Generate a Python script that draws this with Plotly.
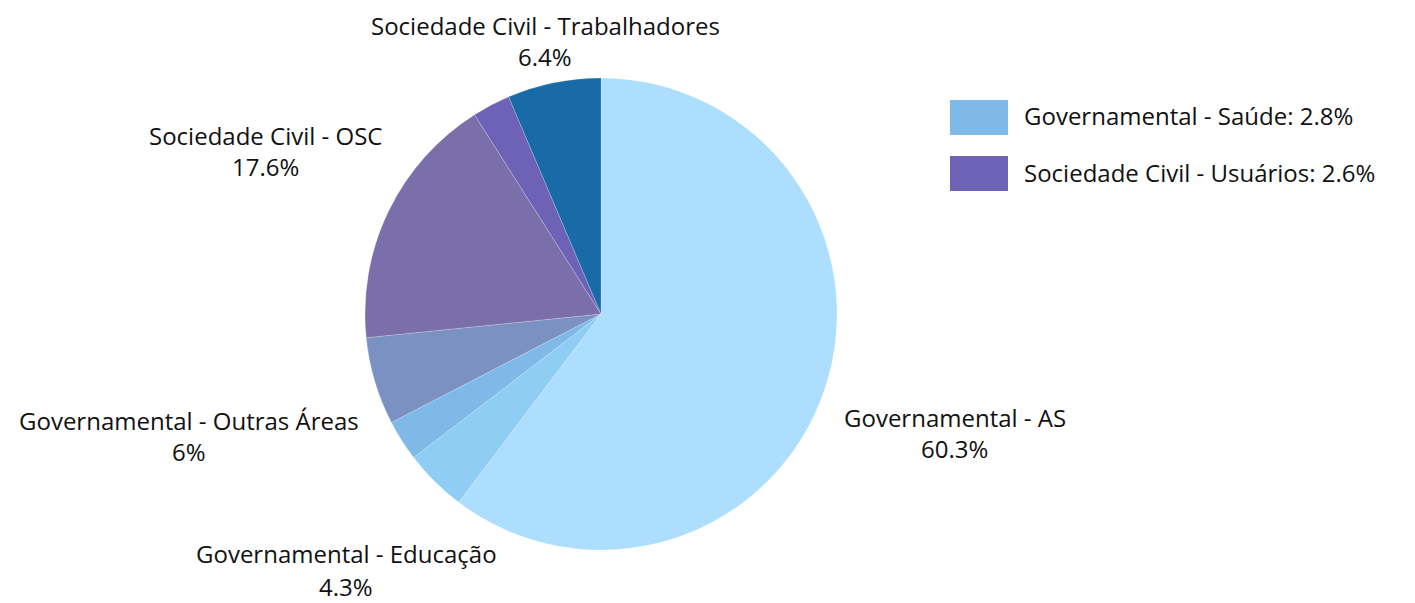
import math
import plotly.graph_objects as go

labels = [
    "Governamental - AS",
    "Governamental - Educação",
    "Governamental - Saúde",
    "Governamental - Outras Áreas",
    "Sociedade Civil - OSC",
    "Sociedade Civil - Usuários",
    "Sociedade Civil - Trabalhadores",
]
values = [60.3, 4.3, 2.8, 6.0, 17.6, 2.6, 6.4]
colors = ["#ADDEFD", "#8FCDF5", "#7EB9E7", "#7B91C2", "#7B6FAB", "#6D62B5", "#186BA6"]
legend_items = [2, 5]  # small slices listed in the legend box instead of labelled

# ---- layout parameters (pixels within the figure) ----
W, H = 1415, 603
cx, cy, r = 593, 306, 236
FONT = "Open Sans"
FS = 24
TXT = "#111111"
# radial distance of each slice label (in pie radii); None = no label
label_radius = [1.58, 1.53, None, 1.82, 1.58, None, 1.18]
# vertical gap between the name line and the percentage line
label_gap = [31, 33, 31, 31, 31, 31, 31]

fig = go.Figure()
fig.add_trace(go.Pie(
    labels=labels,
    values=values,
    sort=False,
    direction="clockwise",
    rotation=0,
    marker=dict(colors=colors, line=dict(color="rgba(255,255,255,0.4)", width=0.5)),
    textinfo="none",
    domain=dict(x=[(cx - r) / W, (cx + r) / W], y=[(H - cy - r) / H, (H - cy + r) / H]),
    showlegend=False,
    hoverinfo="label+percent",
))

total = sum(values)
annotations = []
cum = 0.0
for i, v in enumerate(values):
    mid = (cum + v / 2) / total * 2 * math.pi
    cum += v
    if label_radius[i] is None:
        continue
    R = label_radius[i] * r
    px = cx + R * math.sin(mid)
    py = cy - R * math.cos(mid)
    pct = round(v / total * 100, 1)
    for txt, yy in ((labels[i], py - label_gap[i] / 2), (f"{pct:g}%", py + label_gap[i] / 2)):
        annotations.append(dict(
            xref="paper", yref="paper", x=px / W, y=1 - yy / H,
            xanchor="center", yanchor="middle", showarrow=False, align="center",
            text=txt, font=dict(family=FONT, size=FS, color=TXT)))

shapes = []
for k, i in enumerate(legend_items):
    y0 = 92 + k * 56
    shapes.append(dict(type="rect", xref="paper", yref="paper",
                       x0=942 / W, x1=1000 / W, y0=1 - (y0 + 35) / H, y1=1 - y0 / H,
                       fillcolor=colors[i], line=dict(width=0)))
    pct = round(values[i] / total * 100, 1)
    annotations.append(dict(xref="paper", yref="paper", x=1014 / W, y=1 - (y0 + 16) / H,
                            xanchor="left", yanchor="middle", showarrow=False,
                            text=f"{labels[i]}: {pct:g}%",
                            font=dict(family=FONT, size=FS, color=TXT)))

fig.update_layout(
    width=W, height=H,
    margin=dict(l=0, r=0, t=0, b=0),
    paper_bgcolor="white", plot_bgcolor="white",
    font=dict(family=FONT, size=FS, color=TXT),
    shapes=shapes,
    annotations=annotations,
)
fig.write_html("out.html")
